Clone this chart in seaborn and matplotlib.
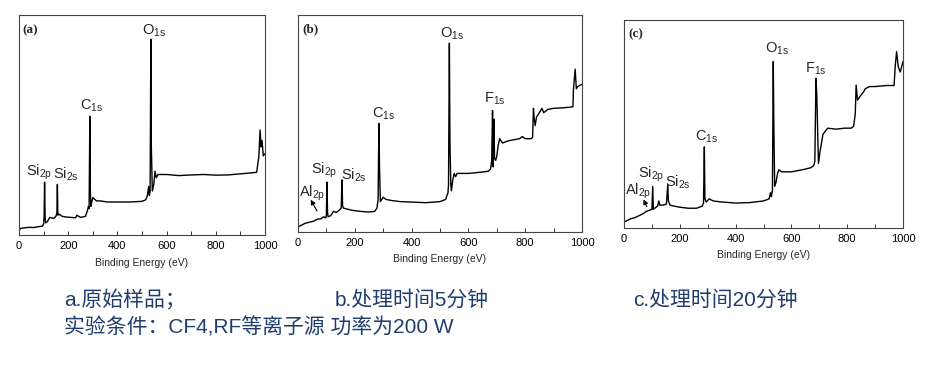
import numpy as np
import pandas as pd
import matplotlib
matplotlib.use("Agg")
import matplotlib.pyplot as plt
from matplotlib.ticker import MultipleLocator
import seaborn as sns

# spectrum (a): original sample
energy_a = [0, 5, 20, 40, 60, 80, 95, 100, 102, 104, 106, 108, 115, 125, 140, 150, 154, 156, 158, 162,
            175, 190, 210, 230, 235, 250, 270, 278, 282, 285, 288, 290, 292, 296, 300, 305, 315, 330, 360,
            400, 450, 500, 515, 522, 527, 530, 533, 536, 538, 542, 548, 553, 558, 565, 600, 650, 700, 750,
            800, 850, 900, 940, 966, 975, 980, 984, 988, 993, 1000]
count_a = [1.5, 3, 3.2, 3.5, 3.4, 3.8, 4, 5, 8, 24, 9, 5.5, 6, 8, 7.5, 8.5, 10, 23, 9, 9.5,
           8.5, 8.2, 8, 7.8, 9, 8, 8.5, 11, 13, 12, 54, 20, 13, 15, 17, 16.5, 15.5, 15.5, 15,
           15, 15, 15.3, 16, 18, 22, 18, 20, 89, 40, 20, 23, 29, 26, 27.5, 27.5, 27, 27.3, 27.5,
           27.2, 27.3, 27.8, 28.2, 28.5, 35.6, 47.7, 40, 43, 36, 37]

# spectrum (b): 5 min treatment
energy_b = [0, 10, 25, 40, 55, 70, 80, 90, 98, 100, 102, 104, 106, 115, 125, 135, 145, 152, 155, 157,
            160, 175, 190, 220, 250, 270, 278, 282, 285, 287, 290, 295, 300, 310, 330, 360, 400, 450,
            500, 520, 525, 528, 530, 533, 535, 538, 540, 545, 550, 555, 560, 600, 640, 670, 678, 682,
            685, 687, 690, 692, 696, 700, 705, 710, 720, 740, 760, 780, 790, 800, 820, 826, 829, 832,
            835, 840, 850, 859, 865, 880, 900, 930, 955, 968, 970, 976, 980, 985, 994, 1000]
count_b = [2.3, 3, 4, 4.5, 5, 6, 6, 7, 6.5, 8, 23, 9, 7, 7.5, 9.5, 9, 10, 11, 24, 12,
           11, 10.5, 10, 9.5, 9.2, 9.5, 11, 15, 50, 30, 14, 15, 16, 15, 14.5, 14, 13.8, 13.5,
           14, 15, 17, 18, 22, 87, 42, 22, 19, 24, 27, 25.5, 27, 27, 27.5, 28, 29, 33,
           56, 30, 52, 34, 33, 35, 40, 43, 41, 42, 42.5, 43, 44, 43, 43, 43.5, 57, 52,
           49, 53, 55, 57, 55, 56.5, 57, 57.2, 57.5, 57.7, 66, 75, 66, 67, 67.7, 68]

# spectrum (c): 20 min treatment
energy_c = [0, 10, 25, 40, 55, 70, 80, 90, 100, 103, 105, 110, 120, 125, 128, 140, 152, 157, 159, 165,
            180, 200, 230, 260, 280, 285, 288, 290, 295, 305, 320, 350, 400, 450, 500, 520, 525, 528,
            532, 535, 537, 540, 545, 550, 555, 565, 600, 640, 670, 680, 684, 688, 691, 697, 703, 713,
            730, 760, 790, 815, 823, 829, 832, 837, 847, 859, 865, 880, 900, 940, 968, 972, 977, 983,
            990, 1000]
count_c = [2.9, 3.5, 4.5, 5, 6, 7, 8, 8.5, 9, 20, 9, 9.5, 10.5, 13, 11, 11, 11.5, 21, 13, 11,
           10.5, 10, 9.5, 9.5, 10.5, 12, 39, 14, 12.5, 14, 13, 12.5, 12, 12.2, 13, 14, 17, 15,
           18, 80, 50, 20, 22, 26, 28, 27, 27, 28, 29, 30, 32, 72, 64, 31, 37, 45,
           48, 47.5, 48, 48, 49, 55, 68.7, 61.5, 63.5, 65.5, 67, 68, 68, 68.5, 68.5, 77.5, 84.8, 77.5,
           75, 80]

panel_tags = ["(a)", "(b)", "(c)"]

# peak labels: (text, x, y) in data units
labels_a = [("O$_{1s}$", 498, 93), ("C$_{1s}$", 247, 58.6), ("Si$_{2p}$", 30, 28.3), ("Si$_{2s}$", 138, 27.7)]
labels_b = [("O$_{1s}$", 500, 91.5), ("C$_{1s}$", 259, 54.6), ("F$_{1s}$", 656, 61.5),
            ("Si$_{2p}$", 47, 28.5), ("Si$_{2s}$", 153, 26), ("Al$_{2p}$", 4, 18)]
labels_c = [("O$_{1s}$", 506, 86), ("C$_{1s}$", 255, 43.8), ("F$_{1s}$", 650, 76.7),
            ("Si$_{2p}$", 51, 26), ("Si$_{2s}$", 147, 22), ("Al$_{2p}$", 5, 17.5)]
arrow_b = ((72, 8.5), (40, 16))
arrow_c = ((86, 9), (66, 15))

captions = ["a.原始样品；", "b.处理时间5分钟", "c.处理时间20分钟"]
condition = "实验条件：CF4,RF等离子源 功率为200 W"

sns.set_style("white")
plt.rcParams["font.family"] = ["Liberation Sans", "Noto Sans CJK SC", "DejaVu Sans"]
plt.rcParams["mathtext.default"] = "regular"

fig = plt.figure(figsize=(9.3, 3.79), dpi=100)
rects = [[19 / 930, 144 / 379, 246 / 930, 220 / 379],
         [298 / 930, 147 / 379, 284 / 930, 217 / 379],
         [624 / 930, 151 / 379, 279 / 930, 208 / 379]]

spectra = [(energy_a, count_a, labels_a, None),
           (energy_b, count_b, labels_b, arrow_b),
           (energy_c, count_c, labels_c, arrow_c)]

for i, (e, c, labs, arr) in enumerate(spectra):
    ax = fig.add_axes(rects[i])
    df = pd.DataFrame({"energy": e, "counts": c})
    sns.lineplot(data=df, x="energy", y="counts", ax=ax, color="black", lw=1.0, sort=False)
    ax.set_xlim(0, 1000)
    ax.set_ylim(0, 100)
    ax.set_yticks([])
    ax.set_ylabel("")
    ax.xaxis.set_major_locator(MultipleLocator(200))
    ax.xaxis.set_minor_locator(MultipleLocator(100))
    ax.tick_params(axis="x", which="both", direction="in", length=3, width=0.7,
                   labelsize=8, pad=4, bottom=True, colors="#333333")
    ax.tick_params(axis="x", labelcolor="black")
    for s in ax.spines.values():
        s.set_color("#444444")
        s.set_linewidth(0.8)
    ax.set_xlabel("Binding Energy (eV)", fontsize=7.5, labelpad=5)
    ax.text(0.015, 0.96, panel_tags[i], transform=ax.transAxes, fontsize=9.5,
            fontweight="bold", family="Liberation Serif", va="top", ha="left")
    for t, x, y in labs:
        ax.text(x, y, t, fontsize=10.5, va="center", ha="left")
    if arr is not None:
        ax.annotate("", xy=arr[1], xytext=arr[0],
                    arrowprops=dict(arrowstyle="-|>", color="black", lw=0.8, mutation_scale=7))

cap_color = "#1f3d6e"
fig.text(64 / 930, 1 - 300 / 379, captions[0], fontsize=15, color=cap_color, va="center")
fig.text(335 / 930, 1 - 300 / 379, captions[1], fontsize=15, color=cap_color, va="center")
fig.text(633 / 930, 1 - 300 / 379, captions[2], fontsize=15, color=cap_color, va="center")
fig.text(64 / 930, 1 - 327 / 379, condition, fontsize=15, color=cap_color, va="center")

fig.savefig("out.png", dpi=100)
